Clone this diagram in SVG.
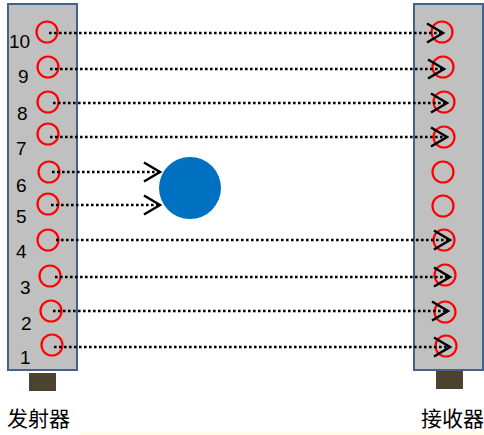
<svg xmlns="http://www.w3.org/2000/svg" width="484" height="435" viewBox="0 0 484 435">
<style>
.bar{fill:#C0C0C0;stroke:#41628F;stroke-width:2}
.foot{fill:#4B4330}
.led{fill:none;stroke:#FF0000;stroke-width:2.2}
.num{font-family:"Liberation Sans",Arial,sans-serif;font-size:19px;fill:#000}
.cap{font-family:"Liberation Sans","Noto Sans CJK SC",sans-serif;font-size:21px;fill:#000}
.beam{stroke:#000;stroke-width:2.6;stroke-dasharray:2.6 2.4;fill:none}
.beam.arr{marker-end:url(#chev)}
</style>
<defs>
<marker id="chev" markerUnits="userSpaceOnUse" markerWidth="20" markerHeight="24" viewBox="-2 -2 20 23" refX="16" refY="9.5" orient="auto" overflow="visible">
<path d="M0,0 L16,9.5 L0,19" fill="none" stroke="#000" stroke-width="2.5" stroke-dasharray="none"/>
</marker>
</defs>
<rect x="80" y="432" width="404" height="3" fill="#FFFDE6"/>
<g id="emitter">
<rect class="bar" x="8" y="4" width="69" height="366"/>
<rect class="foot" x="29" y="373" width="27" height="18"/>
<circle class="led" cx="47" cy="32" r="10.5"/>
<circle class="led" cx="48" cy="67" r="10.5"/>
<circle class="led" cx="48" cy="102" r="10.5"/>
<circle class="led" cx="48" cy="134" r="10.5"/>
<circle class="led" cx="49" cy="172" r="10.5"/>
<circle class="led" cx="48" cy="204" r="10.5"/>
<circle class="led" cx="48" cy="240" r="10.5"/>
<circle class="led" cx="50" cy="276" r="10.5"/>
<circle class="led" cx="51" cy="311" r="10.5"/>
<circle class="led" cx="52" cy="345" r="10.5"/>
<text class="num" x="9" y="48">10</text>
<text class="num" x="18" y="83">9</text>
<text class="num" x="17" y="120">8</text>
<text class="num" x="16" y="155">7</text>
<text class="num" x="16" y="192">6</text>
<text class="num" x="16" y="223">5</text>
<text class="num" x="16" y="258">4</text>
<text class="num" x="20" y="294">3</text>
<text class="num" x="21" y="330">2</text>
<text class="num" x="20" y="364">1</text>
<text class="cap" x="7" y="426">发射器</text>
</g>
<g id="receiver">
<rect class="bar" x="414" y="4" width="69" height="366"/>
<rect class="foot" x="436" y="371" width="27" height="18"/>
<circle class="led" cx="442" cy="32" r="10.5"/>
<circle class="led" cx="443" cy="67" r="10.5"/>
<circle class="led" cx="444" cy="102" r="10.5"/>
<circle class="led" cx="444" cy="137" r="10.5"/>
<circle class="led" cx="443" cy="172" r="10.5"/>
<circle class="led" cx="443" cy="206" r="10.5"/>
<circle class="led" cx="444" cy="240" r="10.5"/>
<circle class="led" cx="445" cy="275" r="10.5"/>
<circle class="led" cx="445" cy="312" r="10.5"/>
<circle class="led" cx="446" cy="346" r="10.5"/>
<text class="cap" x="421" y="426">接收器</text>
</g>
<g id="obstacle">
<circle cx="190" cy="188" r="31" fill="#0070C0"/>
</g>
<g id="connectors">
<line class="beam arr" x1="49" y1="33" x2="443" y2="33"/>
<line class="beam arr" x1="50" y1="69" x2="444" y2="69"/>
<line class="beam arr" x1="53" y1="103" x2="447" y2="103"/>
<line class="beam arr" x1="50" y1="137" x2="447" y2="137"/>
<line class="beam arr" x1="52" y1="172" x2="160" y2="172"/>
<line class="beam arr" x1="51" y1="205" x2="160" y2="205"/>
<line class="beam arr" x1="56" y1="240" x2="450" y2="240"/>
<line class="beam arr" x1="55" y1="277" x2="450" y2="277"/>
<line class="beam arr" x1="53" y1="311" x2="448" y2="311"/>
<line class="beam arr" x1="54" y1="347" x2="450" y2="347"/>
</g>
</svg>
